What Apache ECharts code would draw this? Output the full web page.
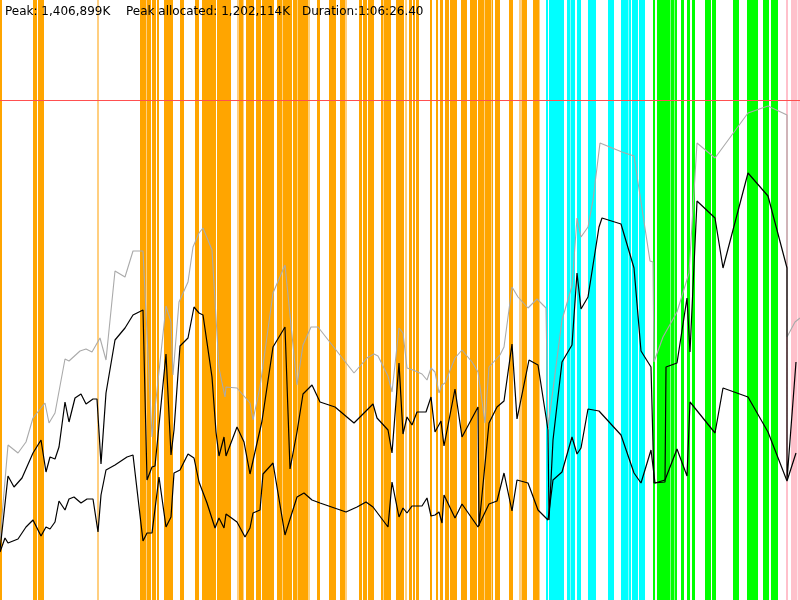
<!DOCTYPE html>
<html>
<head>
<meta charset="utf-8">
<script src="https://cdn.jsdelivr.net/npm/echarts@6/dist/echarts.min.js"></script>
<style>html,body{margin:0;padding:0;background:#fff}#c{width:800px;height:600px}</style>
</head>
<body>
<div id="c"></div>
<script>
// time axis 0..800 units, memory axis 0..600 units (peak line at 500)
var orangeBands = [[0,2],[33,37],[38,44],[140,146],[147,151],[152,156],[157,159],[164,173],[180,184],[195,199],[202,216],[217,226],[226,228],[228,231],[239,243],[246,254],[256,261],[262,274],[277,282],[282.5,292],[293,297.5],[298,308],[308.5,309.5],[317,320],[329,336],[340,345],[359,362],[363,367],[368,374],[381,383],[383.5,391],[396,404],[409,412],[413,415],[416,419],[430,432],[436,438],[440,443],[445,449],[450,457],[461,467],[470,477],[478,484.5],[485,491],[491.5,493],[495,500],[509,513],[522,527],[533,539]];
var lightOrangeBands = [[97,99],[146,147],[237,239],[243,244],[345,347],[405,407],[519,522],[539,540]];
var cyanBands = [[546,548],[549,564],[567,570],[570.5,575],[577,581],[588,596],[608,614],[621,628],[628.5,631],[632,638],[639,645]];
var greenBands = [[653,655],[657,670],[670.5,674],[674.5,677],[681,684],[687,690],[692,695],[705,711],[712,716],[733,739],[747,758],[763,769],[771,778]];
var pinkBands = [[786,788],[791,797.5],[798,800]];
var peakLimit = 500;

var grayLine = [[0,60],[8,155],[18,147],[26,158],[33,182],[45,197],[49,177],[55,187],[65,241],[69,239],[80,249],[86,251],[92,248],[100,262],[106,240],[115,329],[125,323],[133,349],[143,349],[152,163],[166,294],[171,278],[173,225],[179,298],[188,318],[193,353],[199,367],[203,372],[212,350],[219,232],[225,203],[226,213],[237,212],[250,197],[253,180],[260,213],[273,307],[285,335],[297,215],[303,255],[311,273],[318,273],[354,227],[367,242],[374,246],[378,244],[388,224],[392,208],[399,272],[403,267],[407,232],[413,230],[422,226],[427,220],[431,232],[435,228],[439,207],[442,215],[445,217],[455,242],[462,250],[472,238],[478,228],[485,177],[489,233],[500,245],[504,253],[512,313],[518,303],[528,292],[537,301],[546,292],[548,172],[562,280],[572,314],[577,382],[581,363],[588,373],[593,400],[600,457],[602,458],[622,448],[634,444],[650,339],[653,338],[654,238],[663,263],[677,288],[689,327],[697,457],[715,442],[748,487],[768,494],[787,485],[787,263],[795,278],[800,282]];

var upperLine = [[0,50],[8,124],[14,113],[22,122],[33,147],[41,160],[46,128],[50,143],[55,141],[59,153],[65,198],[69,178],[75,202],[81,206],[86,196],[93,201],[97,201],[101,136],[106,207],[115,260],[125,272],[133,285],[143,290],[147,120],[152,133],[155,134],[166,246],[171,145],[174,170],[180,254],[188,262],[194,293],[199,287],[203,285],[212,223],[216,168],[219,144],[224,163],[226,144],[237,173],[244,158],[250,126],[262,179],[273,253],[285,273],[290,131],[297,168],[303,206],[312,215],[320,198],[335,193],[354,177],[373,196],[377,182],[388,170],[392,147],[399,237],[403,166],[407,183],[412,175],[417,188],[426,188],[431,203],[435,168],[441,179],[444,154],[455,211],[462,163],[478,193],[479,74],[489,177],[497,193],[504,199],[512,256],[517,181],[529,240],[538,235],[548,170],[549,80],[553,160],[562,238],[572,255],[577,327],[581,291],[588,303],[599,373],[602,382],[621,376],[634,332],[641,249],[651,233],[654,117],[665,118],[666,233],[677,237],[687,302],[690,248],[697,399],[715,382],[723,332],[748,427],[768,404],[787,332],[787,120],[796,238]];

var lowerLine = [[0,48],[5,62],[8,57],[13,59],[18,61],[26,73],[33,80],[41,64],[46,73],[50,71],[55,78],[59,99],[65,90],[69,101],[74,103],[81,97],[87,101],[93,101],[98,68],[101,105],[106,130],[115,135],[127,143],[133,145],[143,59],[147,67],[152,67],[159,123],[166,73],[171,83],[174,127],[180,130],[188,146],[194,142],[199,118],[207,97],[215,72],[219,82],[224,72],[226,86],[237,78],[245,63],[250,72],[253,87],[260,90],[263,126],[273,137],[285,65],[297,103],[304,107],[312,100],[320,97],[346,88],[357,93],[366,98],[373,93],[388,73],[392,118],[399,83],[403,92],[407,87],[412,94],[422,94],[427,102],[431,84],[435,85],[439,88],[442,77],[444,105],[455,82],[462,96],[478,73],[489,96],[497,99],[504,127],[512,89],[517,120],[528,117],[538,90],[548,80],[553,120],[562,128],[572,163],[577,146],[581,152],[588,191],[599,189],[621,165],[634,127],[641,117],[651,150],[655,117],[665,120],[677,151],[687,124],[690,198],[715,167],[723,212],[748,203],[768,168],[787,119],[796,147]];

var headerTexts = ['Peak: 1,406,899K', 'Peak allocated: 1,202,114K', 'Duration:1:06:26.40'];
var headerX = [5, 126, 302];

var bandColors = ['#ffa500', '#ffcf80', '#00ffff', '#00ff00', '#ffc0cb'];
var bandData = [];
[orangeBands, lightOrangeBands, cyanBands, greenBands, pinkBands].forEach(function (arr, ci) {
  arr.forEach(function (b) { bandData.push([b[0], b[1], ci]); });
});

var chart = echarts.init(document.getElementById('c'), null, {renderer: 'canvas'});
chart.setOption({
  animation: false,
  backgroundColor: '#fff',
  grid: {left: 0, right: 0, top: 0, bottom: 0},
  xAxis: {type: 'value', min: 0, max: 800, show: false},
  yAxis: {type: 'value', min: 0, max: 600, show: false},
  graphic: headerTexts.map(function (t, i) {
    return {type: 'text', left: headerX[i], top: 6, z: 100,
      style: {text: t, fill: '#000', font: '12px "DejaVu Sans", sans-serif'}};
  }),
  series: [
    {
      type: 'custom', z: 1, silent: true,
      data: bandData,
      encode: {x: [0, 1]},
      renderItem: function (params, api) {
        var p0 = api.coord([api.value(0), 600]);
        var p1 = api.coord([api.value(1), 0]);
        return {type: 'rect', shape: {x: p0[0], y: p0[1], width: p1[0] - p0[0], height: p1[1] - p0[1]},
          style: {fill: bandColors[api.value(2)]}};
      }
    },
    {
      type: 'line', z: 3, data: grayLine, showSymbol: false, silent: true,
      lineStyle: {color: '#aaaaaa', width: 1.1},
      markLine: {symbol: 'none', silent: true, label: {show: false},
        lineStyle: {color: '#ff5050', width: 1, type: 'solid'},
        data: [{yAxis: peakLimit}]}
    },
    {
      type: 'line', z: 4, data: upperLine, showSymbol: false, silent: true,
      lineStyle: {color: '#000', width: 1.2}
    },
    {
      type: 'line', z: 4, data: lowerLine, showSymbol: false, silent: true,
      lineStyle: {color: '#000', width: 1.2}
    }
  ]
});
</script>
</body>
</html>
